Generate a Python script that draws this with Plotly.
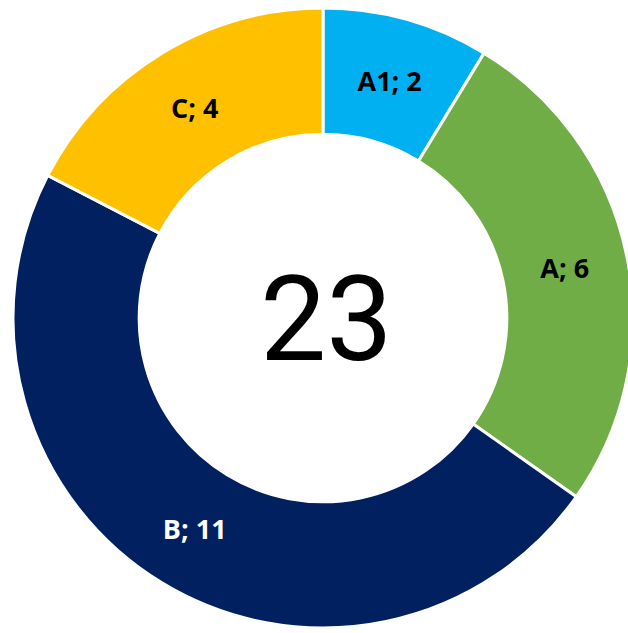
import plotly.graph_objects as go

labels = ["A1", "A", "B", "C"]
values = [2, 6, 11, 4]
colors = ["#00B0F0", "#70AD47", "#002060", "#FFC000"]
text_colors = ["#000000", "#000000", "#FFFFFF", "#000000"]

W, H = 640, 633
cx, cy, R = 323, 318, 310

fig = go.Figure(go.Pie(
    labels=labels,
    values=values,
    hole=0.593,
    sort=False,
    direction="clockwise",
    rotation=0,
    marker=dict(colors=colors, line=dict(color="white", width=3)),
    texttemplate="%{label}; %{value}",
    textposition="inside",
    insidetextorientation="horizontal",
    insidetextfont=dict(family="Open Sans", size=27, color=text_colors, weight="bold"),
    showlegend=False,
    hoverinfo="label+value",
    domain=dict(x=[(cx - R) / W, (cx + R) / W], y=[(H - cy - R) / H, (H - cy + R) / H]),
))

fig.add_annotation(
    x=(cx + 3) / W, y=(H - cy - 2) / H, xref="paper", yref="paper",
    text=str(sum(values)), showarrow=False,
    font=dict(family="Roboto", size=118, color="#000000"),
    xanchor="center", yanchor="middle",
)

fig.update_layout(
    width=W, height=H,
    margin=dict(l=0, r=0, t=0, b=0),
    paper_bgcolor="white", plot_bgcolor="white",
    uniformtext=dict(minsize=27, mode="show"),
)

fig.write_html(
    "out.html",
    config={"displayModeBar": False},
    post_script="document.body.style.margin='0';document.body.style.overflow='hidden';",
)
